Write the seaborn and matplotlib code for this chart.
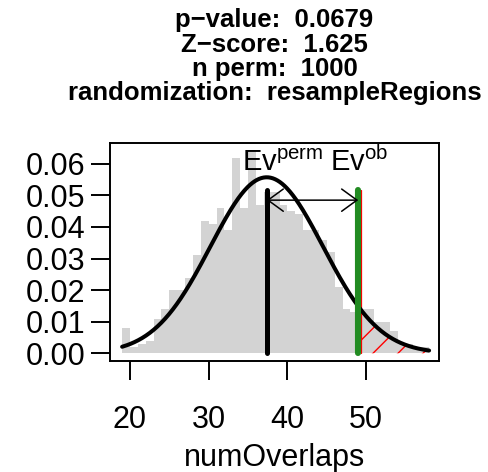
import numpy as np
import pandas as pd
import matplotlib
matplotlib.use("Agg")
import matplotlib.pyplot as plt
import matplotlib.transforms as mtransforms
from matplotlib.lines import Line2D
from matplotlib.patches import FancyArrowPatch
import seaborn as sns

# ---- data ----
bin_left = list(range(19, 58))
density = [0.008, 0.002, 0.003, 0.004, 0.011, 0.014, 0.020, 0.020, 0.024, 0.031,
           0.042, 0.041, 0.046, 0.039, 0.062, 0.046, 0.064, 0.047, 0.051, 0.051,
           0.047, 0.045, 0.044, 0.039, 0.039, 0.036, 0.032, 0.021, 0.014, 0.013,
           0.014, 0.014, 0.010, 0.010, 0.007, 0.003, 0.003, 0.002, 0.002]
perm_mean = 37.37
perm_sd = 7.157
observed = 49
line_top = 0.0517
x_ticks = [20, 30, 40, 50]
y_ticks = [0.00, 0.01, 0.02, 0.03, 0.04, 0.05, 0.06]
title_lines = ["p\u2212value:  0.0679", "Z\u2212score:  1.625", "n perm:  1000",
               "randomization:  resampleRegions"]

sns.set_theme(style="white")
plt.rcParams["font.family"] = ["Liberation Sans", "DejaVu Sans"]
plt.rcParams["mathtext.fontset"] = "custom"
plt.rcParams["mathtext.rm"] = "Liberation Sans"
plt.rcParams["mathtext.it"] = "Liberation Sans"
plt.rcParams["text.color"] = "black"

fig = plt.figure(figsize=(4.89, 4.72), dpi=100)
ax = fig.add_axes([110 / 489, 1 - 361 / 472, 329 / 489, 218 / 472])

df = pd.DataFrame({"x": np.array(bin_left) + 0.5, "w": density})
sns.histplot(data=df, x="x", weights="w", binwidth=1,
             binrange=(bin_left[0], bin_left[-1] + 1), stat="count",
             color="#d3d3d3", alpha=1, edgecolor="none", linewidth=0, ax=ax)

ax.set_xlim(17.46, 59.26)
ax.set_ylim(-0.00244, 0.0666)

xs = np.linspace(bin_left[0], bin_left[-1] + 1, 400)
ys = np.exp(-0.5 * ((xs - perm_mean) / perm_sd) ** 2) / (perm_sd * np.sqrt(2 * np.pi))

# hatched tail (sparse 45-degree red lines clipped to the tail area)
mask = xs >= observed
tail = ax.fill_between(xs[mask], 0, ys[mask], facecolor="none", edgecolor="none",
                       linewidth=0, zorder=3)
tail_path = tail.get_paths()[0]
for c in np.arange(4.3 - 600, 600, 25):
    ln = Line2D([c, c + 1000], [0, 1000], color="red", lw=1.0,
                transform=mtransforms.IdentityTransform(), zorder=3)
    ln.set_clip_path(tail_path, ax.transData)
    ax.add_line(ln)

off = mtransforms.ScaledTranslation(2.8 / 100, 0, fig.dpi_scale_trans)
ax.plot([observed, observed], [0, line_top], color="red", lw=0.9,
        transform=ax.transData + off, zorder=3)

sns.lineplot(x=xs, y=ys, color="black", lw=2.9, ax=ax, zorder=4)

ax.plot([perm_mean, perm_mean], [0, line_top], color="black", lw=3.6,
        solid_capstyle="round", zorder=5)
ax.plot([observed, observed], [0, line_top], color="#228B22", lw=4.4,
        solid_capstyle="round", zorder=5)

arr = FancyArrowPatch((perm_mean, 0.0485), (observed, 0.0485),
                      arrowstyle="<->,head_length=1.1,head_width=0.8",
                      mutation_scale=10, lw=1.1, color="black",
                      shrinkA=0, shrinkB=0, zorder=6)
ax.add_patch(arr)

ax.text(39.38, 0.0578, r"$\mathrm{Ev}^{\mathrm{perm}}$", ha="center", va="baseline",
        fontsize=21, color="black", zorder=7)
ax.text(49.1, 0.0578, r"$\mathrm{Ev}^{\mathrm{ob}}$", ha="center", va="baseline",
        fontsize=21, color="black", zorder=7)

ax.set_xlim(17.46, 59.26)
ax.set_ylim(-0.00244, 0.0666)
ax.set_xticks(x_ticks)
ax.set_xticklabels([str(t) for t in x_ticks])
ax.set_yticks(y_ticks)
ax.set_yticklabels([f"{t:.2f}" for t in y_ticks])
ax.tick_params(axis="both", direction="out", length=13.7, width=1.4,
               labelsize=22, colors="black", bottom=True, left=True)
ax.tick_params(axis="x", pad=18)
ax.tick_params(axis="y", pad=4)
ax.set_xlabel("numOverlaps", fontsize=22, labelpad=6, color="black")
ax.set_ylabel("")
for s in ax.spines.values():
    s.set_visible(True)
    s.set_color("black")
    s.set_linewidth(1.4)

cx = (110 + 439) / 2 / 489
for line, base in zip(title_lines, [27, 51.5, 76, 100]):
    fig.text(cx, 1 - base / 472, line, ha="center", va="baseline",
             fontsize=18.5, fontweight="bold", color="black")

fig.savefig("out.png", dpi=100)
